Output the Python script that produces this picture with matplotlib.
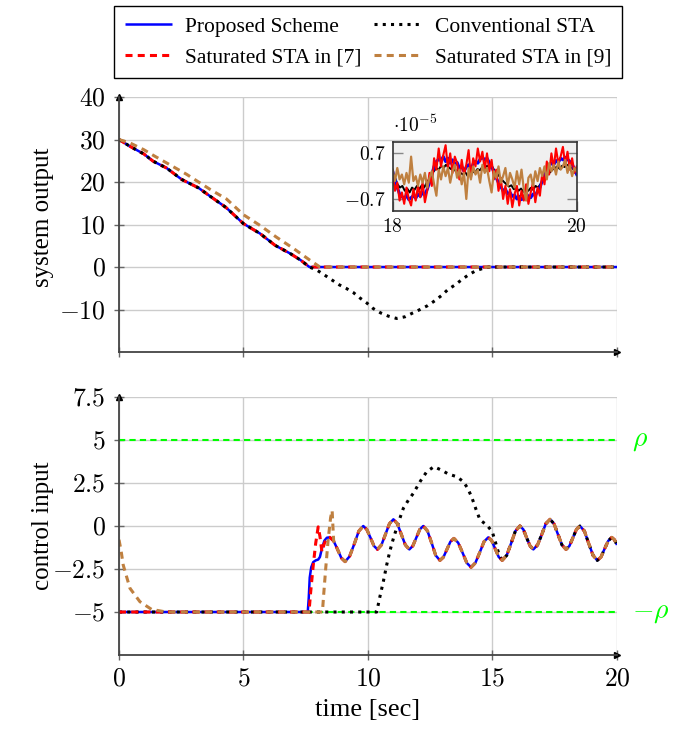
import matplotlib.pyplot as plt
from matplotlib.lines import Line2D
from matplotlib.ticker import FuncFormatter
import numpy as np

plt.rcParams['font.family'] = ['Liberation Serif', 'DejaVu Serif']
plt.rcParams['mathtext.fontset'] = 'cm'

# ---- system output (top panel) ----
out_t = [0, 0.44, 1.0, 1.37, 1.91, 2.52, 3.2, 3.65, 4.3, 5.0, 5.66, 6.27, 6.87, 7.3, 7.65, 20]
out_y = [30, 28.4, 26.6, 24.9, 23.3, 20.6, 18.6, 16.7, 14.0, 10.2, 7.9, 5.1, 3.2, 1.6, 0, 0]

sat9_out_t = [0, 0.44, 1.0, 1.4, 1.91, 2.72, 3.65, 4.32, 5.0, 5.66, 6.33, 7.0, 7.67, 8.07, 20]
sat9_out_y = [30, 29.2, 27.6, 26.2, 24.5, 21.8, 18.3, 16.0, 12.3, 9.8, 7.0, 4.4, 1.6, 0, 0]

conv_out_t = out_t[:-1] + [7.94, 8.25, 8.54, 8.85, 9.12, 9.41, 9.68, 9.95, 10.21, 10.51, 10.82,
                           11.15, 11.49, 11.8, 12.09, 12.4, 12.69, 12.96, 13.2, 13.5, 13.76,
                           14.03, 14.33, 14.63, 14.85, 20]
conv_out_y = out_y[:-1] + [-0.7, -1.86, -3.0, -4.2, -5.0, -6.0, -7.3, -8.45, -9.77, -10.8, -11.56,
                           -12.1, -11.7, -10.8, -10.0, -9.07, -7.9, -6.67, -5.35, -4.19, -3.0,
                           -1.86, -0.86, -0.3, 0, 0]

# ---- zoomed residual 18..20 s, in units of 1e-5 ----
zoom_prop = [0.15, -0.10, -0.35, -0.55, -0.62, -0.70, -0.58, -0.72, -0.66, -0.60, -0.68, -0.55,
             -0.62, -0.50, -0.58, -0.40, -0.20, 0.05, 0.30, 0.45, 0.52, 0.48, 0.60, 0.45, 0.55,
             0.40, 0.50, 0.35, 0.42, 0.25, 0.30, 0.15, 0.28, 0.35, 0.20, 0.38, 0.45, 0.40, 0.52,
             0.58, 0.50, 0.55, 0.42, 0.30, 0.12, -0.05, -0.20, -0.32, -0.45, -0.40, -0.55, -0.50,
             -0.62, -0.58, -0.70, -0.62, -0.72, -0.65, -0.70, -0.60, -0.66, -0.55, -0.60, -0.45,
             -0.35, -0.15, 0.05, 0.20, 0.32, 0.40, 0.35, 0.48, 0.42, 0.55, 0.50, 0.58, 0.52, 0.45,
             0.38, 0.20, 0.05]
zoom_sat7 = [0.05, -0.45, -0.20, -0.75, -0.50, -0.85, -0.35, -0.70, -0.90, -0.40, -0.75, -0.30,
             -0.65, -0.20, -0.80, -0.45, 0.10, -0.30, 0.55, 0.20, 0.85, 0.30, 0.65, 0.95, 0.25,
             0.70, 0.10, 0.60, 0.40, -0.10, 0.50, 0.05, 0.35, 0.80, -0.05, 0.55, 0.30, 0.85, 0.45,
             0.75, 0.20, 0.70, 0.15, 0.50, -0.10, 0.20, -0.45, -0.05, -0.70, -0.30, -0.85, -0.40,
             -0.95, -0.55, -0.30, -0.90, -0.45, -0.75, -0.25, -0.85, -0.50, -0.20, -0.80, -0.35,
             -0.60, 0.10, -0.25, 0.45, 0.05, 0.70, 0.25, 0.85, 0.40, 0.60, 0.90, 0.35, 0.75, 0.20,
             0.55, 0.10, 0.30]
zoom_conv = [0.10, -0.05, -0.25, -0.35, -0.30, -0.45, -0.38, -0.50, -0.35, -0.42, -0.30, -0.40,
             -0.28, -0.35, -0.20, -0.10, 0.05, 0.15, 0.25, 0.20, 0.32, 0.25, 0.35, 0.28, 0.22,
             0.30, 0.15, 0.20, 0.10, 0.05, 0.12, 0.00, 0.08, 0.15, 0.10, 0.22, 0.18, 0.28, 0.25,
             0.32, 0.26, 0.30, 0.18, 0.10, 0.00, -0.10, -0.18, -0.25, -0.32, -0.28, -0.40, -0.35,
             -0.45, -0.38, -0.48, -0.40, -0.45, -0.36, -0.42, -0.30, -0.35, -0.25, -0.15, -0.05,
             0.05, 0.12, 0.20, 0.25, 0.30, 0.22, 0.32, 0.28, 0.35, 0.30, 0.25, 0.18, 0.10]
zoom_sat9 = [0.20, -0.15, 0.25, -0.10, 0.05, -0.25, 0.10, -0.20, 0.60, -0.15, 0.00, -0.30, 0.05,
             -0.20, 0.10, -0.35, -0.05, 0.15, -0.25, -0.60, 0.20, -0.10, 0.30, 0.00, 0.25, -0.20,
             0.15, 0.35, -0.05, 0.20, -0.25, 0.10, -0.70, 0.25, -0.10, 0.30, 0.05, 0.20, -0.20,
             0.35, 0.10, 0.25, -0.15, -0.50, 0.15, -0.05, 0.30, -0.20, 0.00, 0.25, -0.30, 0.10,
             -0.10, -0.35, 0.15, -0.25, 0.20, -0.40, -0.75, -0.05, 0.05, -0.30, 0.15, -0.15, 0.25,
             0.00, 0.30, -0.10, 0.40, 0.15, 0.35, 0.05, 0.45, 0.20, 0.30, 0.50, 0.10, 0.35, 0.00,
             0.25, 0.15]

# ---- control input (bottom panel) ----
# steady oscillation shared by all schemes
osc_t = [8.47, 8.62, 8.78, 8.93, 9.08, 9.26, 9.45, 9.63, 9.81, 9.95, 10.10, 10.24, 10.38,
         10.54, 10.70, 10.86, 11.02, 11.18, 11.34, 11.50, 11.66, 11.80, 11.94, 12.08, 12.22,
         12.39, 12.56, 12.72, 12.89, 13.03, 13.17, 13.31, 13.45, 13.62, 13.80, 13.97, 14.14,
         14.31, 14.49, 14.66, 14.83, 14.97, 15.11, 15.25, 15.39, 15.57, 15.75, 15.92, 16.10,
         16.24, 16.37, 16.51, 16.64, 16.81, 16.98, 17.14, 17.31, 17.47, 17.63, 17.79, 17.95,
         18.09, 18.23, 18.37, 18.51, 18.69, 18.86, 19.04, 19.21, 19.36, 19.50, 19.65, 19.79,
         19.90, 20.0]
osc_u = [-0.66, -0.87, -1.37, -1.86, -2.07, -1.77, -1.04, -0.30, 0.00, -0.20, -0.68, -1.16, -1.36,
         -1.10, -0.49, 0.13, 0.39, 0.13, -0.49, -1.10, -1.36, -1.16, -0.68, -0.20, 0.00,
         -0.29, -1.00, -1.71, -2.00, -1.81, -1.36, -0.91, -0.72, -0.97, -1.56, -2.15, -2.40,
         -2.15, -1.53, -0.91, -0.66, -0.86, -1.33, -1.80, -2.00, -1.71, -1.00, -0.29, 0.00,
         -0.20, -0.68, -1.16, -1.36, -1.10, -0.49, 0.13, 0.39, 0.13, -0.49, -1.10, -1.36,
         -1.16, -0.68, -0.20, 0.00, -0.29, -1.00, -1.71, -2.00, -1.80, -1.33, -0.86, -0.66,
         -0.80, -1.10]

prop_t = [0, 7.58, 7.62, 7.66, 7.72, 7.80, 7.90, 8.00, 8.07, 8.15, 8.25, 8.35] + osc_t
prop_u = [-5, -5, -4.2, -3.0, -2.4, -2.1, -2.0, -1.95, -1.8, -1.3, -0.85, -0.68] + osc_u

sat7_t = [0, 7.63, 7.70, 7.80, 7.90, 8.00, 8.07, 8.15, 8.25, 8.35] + osc_t
sat7_u = [-5, -5, -3.8, -2.3, -1.0, -0.05, -0.6, -1.5, -1.0, -0.7] + osc_u

sat9_t = [0, 0.08, 0.17, 0.44, 0.84, 1.31, 1.9, 8.17, 8.22, 8.3, 8.4, 8.5, 8.56] + osc_t[1:]
sat9_u = [-0.8, -1.4, -2.27, -3.62, -4.4, -4.85, -5.0, -5.0, -4.0, -2.5, -0.8, 0.5, 0.9] + osc_u[1:]

conv_t = [0, 10.35, 10.48, 10.62, 10.75, 10.88, 11.02, 11.22, 11.42, 11.62, 11.82, 12.10, 12.36,
          12.65, 12.95, 13.23, 13.56, 13.83, 14.00, 14.16, 14.33, 14.50, 14.77, 14.99, 15.11,
          15.25] + osc_t[44:]
conv_u = [-5, -5, -4.1, -3.2, -2.27, -1.45, -0.72, 0.2, 1.03, 1.5, 1.9, 2.6, 3.16,
          3.45, 3.25, 3.02, 2.87, 2.58, 2.2, 1.7, 1.0, 0.35, 0.06, -0.33, -0.9,
          -1.6] + osc_u[44:]

rho = 5
labels = ['Proposed Scheme', 'Conventional STA', 'Saturated STA in [7]', 'Saturated STA in [9]']

BLUE = '#0000ff'
RED = '#ff0000'
BROWN = '#bf8040'
GREEN = '#00ff00'

styles = {
    'prop': dict(color=BLUE, lw=1.8, solid_capstyle='butt'),
    'conv': dict(color='black', lw=2.2, linestyle=(0, (1, 1.7))),
    'sat7': dict(color=RED, lw=2.2, linestyle=(0, (2.3, 1.7))),
    'sat9': dict(color=BROWN, lw=2.2, linestyle=(0, (2.3, 1.7))),
}

math_fmt = FuncFormatter(lambda v, p: '$%g$' % v)


def style_axes(ax):
    for s in ['top', 'right']:
        ax.spines[s].set_visible(False)
    for s in ['left', 'bottom']:
        ax.spines[s].set_color('#444444')
        ax.spines[s].set_linewidth(1.3)
    ax.grid(True, color='#cccccc', lw=1.0)
    ax.set_axisbelow(True)
    ax.tick_params(direction='inout', length=7, width=1, color='#666666',
                   labelsize=18.5, pad=6)
    ax.xaxis.set_major_formatter(math_fmt)
    ax.yaxis.set_major_formatter(math_fmt)
    ax.plot(1, 0, marker='>', ms=5, color='black', transform=ax.transAxes, clip_on=False)
    ax.plot(0, 1, marker='^', ms=5, color='black', transform=ax.transAxes, clip_on=False)


fig = plt.figure(figsize=(6.91, 7.29), dpi=100)
ax1 = fig.add_axes([0.1722, 0.5171, 0.7207, 0.3498])
ax2 = fig.add_axes([0.1722, 0.1015, 0.7207, 0.3539])

# top panel
ax1.plot(out_t, out_y, **styles['prop'])
ax1.plot(out_t, out_y, **styles['sat7'])
ax1.plot(conv_out_t, conv_out_y, **styles['conv'])
ax1.plot(sat9_out_t, sat9_out_y, **styles['sat9'])
ax1.set_xlim(0, 20)
ax1.set_ylim(-20, 40)
ax1.set_xticks([0, 5, 10, 15, 20])
ax1.set_yticks([-10, 0, 10, 20, 30, 40])
style_axes(ax1)
ax1.tick_params(labelbottom=False)
ax1.set_ylabel('system output', fontsize=18)
ax1.yaxis.set_label_coords(-0.13, 0.53)

# bottom panel
ax2.axhline(rho, color=GREEN, lw=1.5, linestyle=(0, (3, 2)), zorder=1.5)
ax2.axhline(-rho, color=GREEN, lw=1.5, linestyle=(0, (3, 2)), zorder=1.5)
ax2.plot(prop_t, prop_u, **styles['prop'])
ax2.plot(conv_t, conv_u, **styles['conv'])
ax2.plot(sat7_t, sat7_u, **styles['sat7'])
ax2.plot(sat9_t, sat9_u, **styles['sat9'])
ax2.set_xlim(0, 20)
ax2.set_ylim(-7.5, 7.5)
ax2.set_xticks([0, 5, 10, 15, 20])
ax2.set_yticks([-5, -2.5, 0, 2.5, 5, 7.5])
style_axes(ax2)
ax2.set_ylabel('control input', fontsize=18)
ax2.yaxis.set_label_coords(-0.13, 0.5)
ax2.set_xlabel('time [sec]', fontsize=19, labelpad=6)
ax2.text(20.6, rho, r'$\rho$', color=GREEN, fontsize=20, va='center', ha='left')
ax2.text(20.6, -rho, r'$-\rho$', color=GREEN, fontsize=20, va='center', ha='left')

# legend above the top panel (column-major order)
handles = [Line2D([], [], **styles['prop']), Line2D([], [], **styles['sat7']),
           Line2D([], [], **styles['conv']), Line2D([], [], **styles['sat9'])]
leg = ax1.legend(handles, [labels[0], labels[2], labels[1], labels[3]], ncol=2,
                 loc='upper center', bbox_to_anchor=(0.5, 1.4), fontsize=15.5,
                 frameon=True, fancybox=False, edgecolor='black', framealpha=1,
                 handlelength=2.2, columnspacing=0.6, labelspacing=0.5,
                 handletextpad=0.6, borderpad=0.5)
leg.get_frame().set_linewidth(1.0)

# inset: residual between 18 and 20 s
axin = fig.add_axes([0.5683, 0.7110, 0.2663, 0.0947])
axin.set_facecolor('#f0f0f0')
zt = np.linspace(18, 20, len(zoom_prop))
axin.plot(np.linspace(18, 20, len(zoom_conv)), zoom_conv, color='black', lw=1.4)
axin.plot(zt, zoom_prop, color=BLUE, lw=2.2)
axin.plot(np.linspace(18, 20, len(zoom_sat7)), zoom_sat7, color=RED, lw=1.5)
axin.plot(np.linspace(18, 20, len(zoom_sat9)), zoom_sat9, color=BROWN, lw=1.6)
axin.set_xlim(18, 20)
axin.set_ylim(-1.06, 1.06)
axin.set_xticks([18, 20])
axin.set_yticks([-0.7, 0.7])
axin.xaxis.set_major_formatter(math_fmt)
axin.yaxis.set_major_formatter(math_fmt)
axin.tick_params(direction='in', length=7, width=1, color='#888888', labelsize=14,
                 left=True, right=True, pad=5)
for s in axin.spines.values():
    s.set_color('#333333')
    s.set_linewidth(1.2)
axin.text(0.0, 1.08, r'$\cdot 10^{-5}$', transform=axin.transAxes, fontsize=14,
          ha='left', va='bottom')

fig.savefig('out.png', dpi=100)
